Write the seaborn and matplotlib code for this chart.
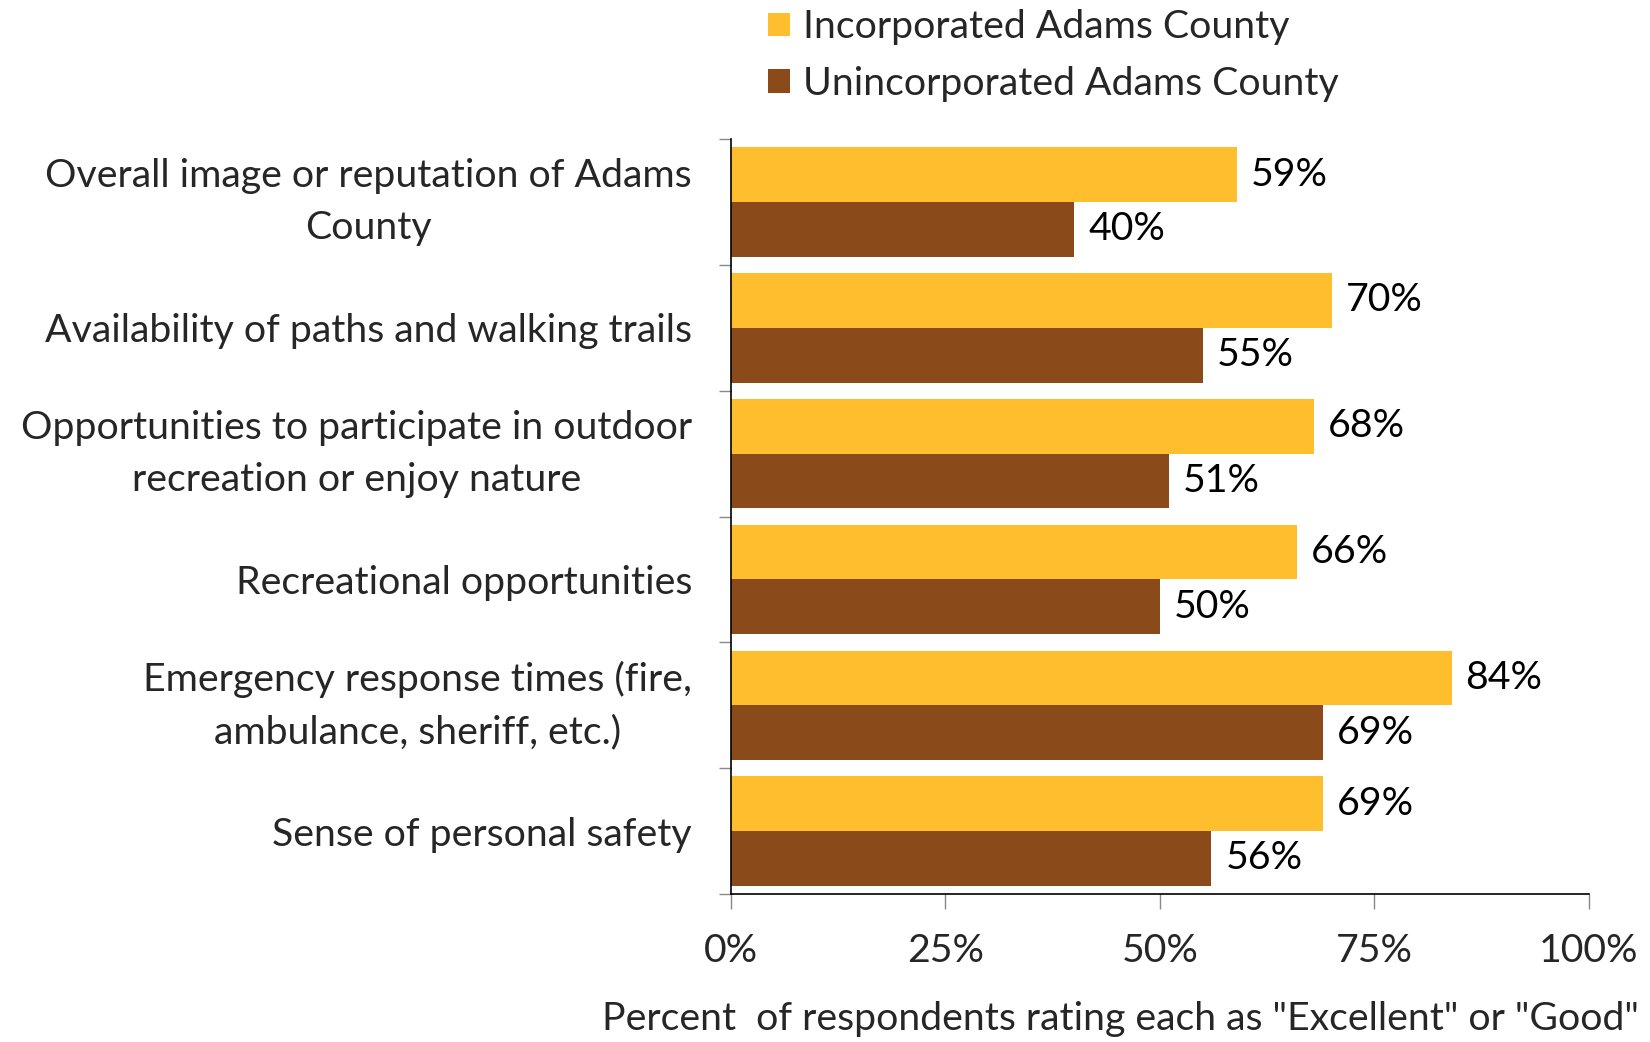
import matplotlib
matplotlib.use("Agg")
import matplotlib.pyplot as plt
import seaborn as sns
import pandas as pd
import numpy as np
from matplotlib.patches import Patch

categories = [
    "Overall image or reputation of Adams\nCounty",
    "Availability of paths and walking trails",
    "Opportunities to participate in outdoor\nrecreation or enjoy nature",
    "Recreational opportunities",
    "Emergency response times (fire,\nambulance, sheriff, etc.)",
    "Sense of personal safety",
]
series_names = ["Incorporated Adams County", "Unincorporated Adams County"]
incorporated = [59, 70, 68, 66, 84, 69]
unincorporated = [40, 55, 51, 50, 69, 56]
x_ticks = [0, 25, 50, 75, 100]
x_tick_labels = ["0%", "25%", "50%", "75%", "100%"]
x_label = 'Percent  of respondents rating each as "Excellent" or "Good"'
colors = ["#FEBE2D", "#8B4A1A"]

df = pd.DataFrame({
    "category": categories * 2,
    "series": [series_names[0]] * 6 + [series_names[1]] * 6,
    "value": incorporated + unincorporated,
})

sns.set_theme(style="white")
plt.rcParams["font.family"] = ["Lato", "DejaVu Sans"]
FS = 28.3

fig = plt.figure(figsize=(16.5, 10.42), dpi=100)
ax = fig.add_axes([0.443, 0.142, 0.520, 0.7246])

sns.barplot(data=df, y="category", x="value", hue="series", orient="h",
            order=categories, hue_order=series_names, palette=colors,
            width=0.87, ax=ax, legend=False, errorbar=None,
            saturation=1, edgecolor="none", linewidth=0)

ax.set_xlim(0, 100)
ax.set_ylim(len(categories) - 0.5, -0.5)
ax.set_xticks(x_ticks)
ax.set_xticklabels(x_tick_labels, fontsize=FS)
ax.set_xlabel("")
ax.set_ylabel("")
ax.tick_params(axis="x", direction="out", length=11, width=1, color="#888888",
               pad=17, bottom=True)
ax.tick_params(axis="y", which="major", length=0, pad=28, labelsize=FS)
for lab in ax.get_yticklabels():
    lab.set_multialignment("center")
    if "\n" in lab.get_text():
        lab.set_linespacing(1.55)
        lab.set_verticalalignment("center")
ax.set_yticks(np.arange(-0.5, len(categories), 1), minor=True)
ax.tick_params(axis="y", which="minor", direction="out", length=9, width=1,
               color="#888888", left=True)

for s in ["top", "right"]:
    ax.spines[s].set_visible(False)
for s in ["left", "bottom"]:
    ax.spines[s].set_color("black")
    ax.spines[s].set_linewidth(1.2)

for cont in ax.containers:
    ax.bar_label(cont, labels=[f"{int(round(v))}%" for v in cont.datavalues],
                 padding=10, fontsize=FS, color="black")

handles = [Patch(facecolor=c, edgecolor="none") for c in colors]
fig.legend(handles, series_names, loc="upper left",
           bbox_to_anchor=(0.4655, 0.991), frameon=False, fontsize=FS,
           handlelength=0.55, handleheight=0.55, handletextpad=0.33,
           labelspacing=0.52, borderpad=0, borderaxespad=0)

fig.text(0.993, 0.022, x_label, ha="right", va="center", fontsize=FS)

fig.savefig("out.png", dpi=100, facecolor="white")
